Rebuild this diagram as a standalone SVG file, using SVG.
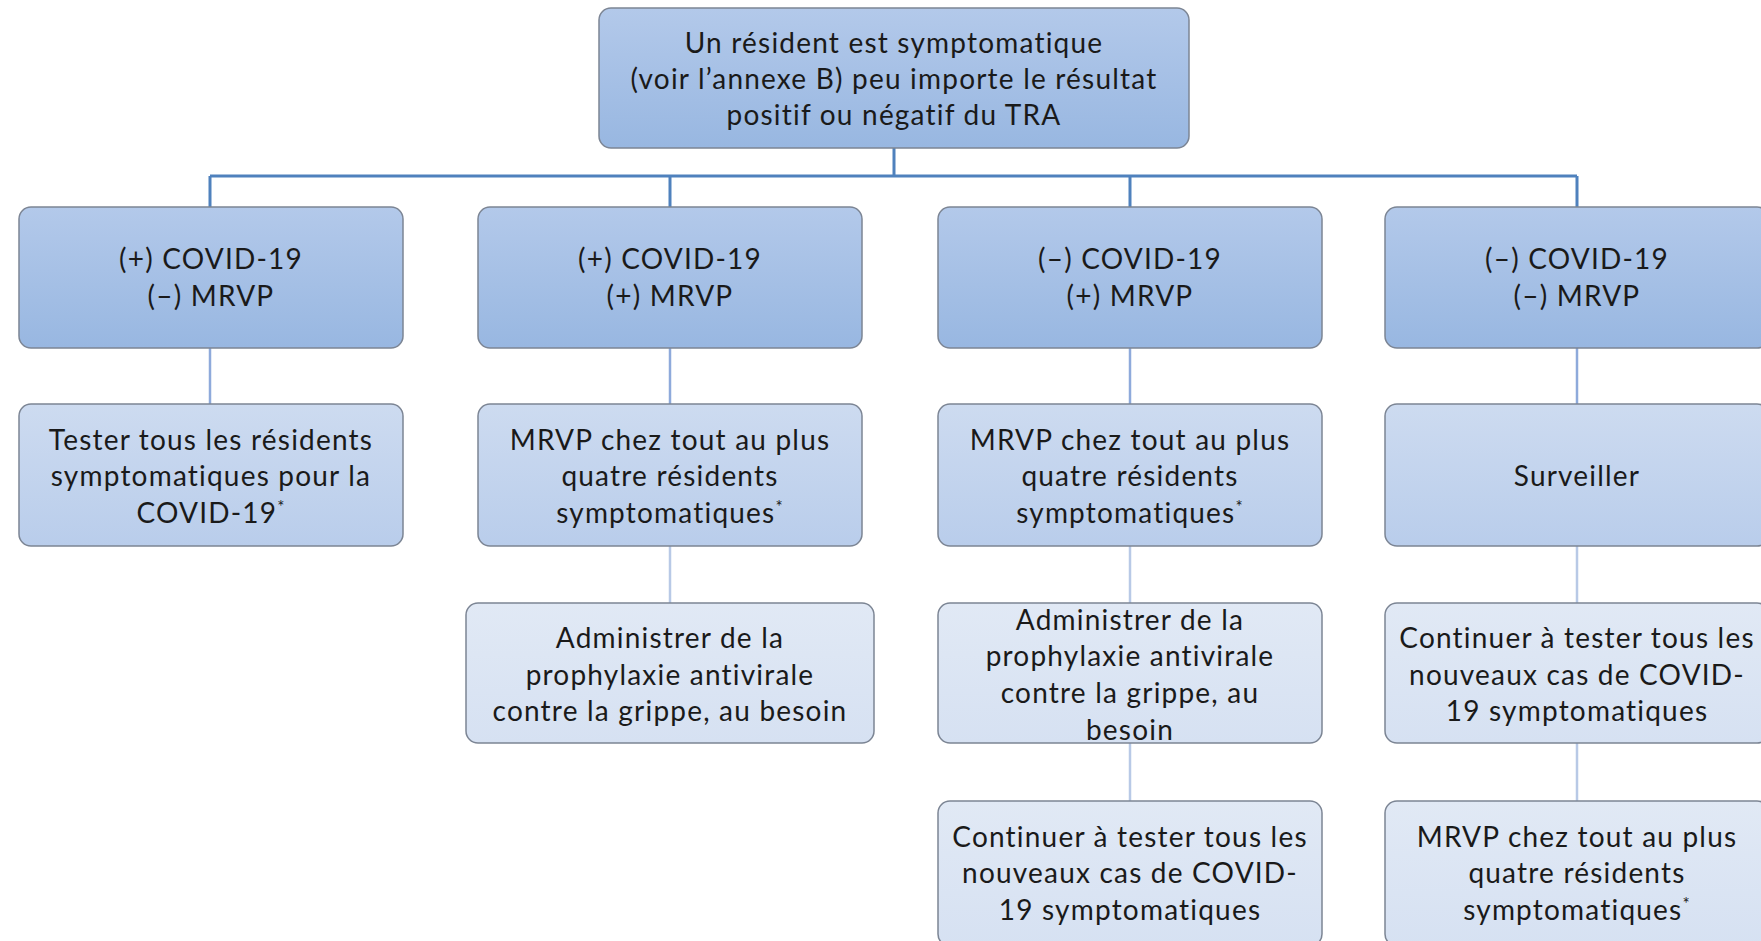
<svg xmlns="http://www.w3.org/2000/svg" width="1761" height="941" viewBox="0 0 1761 941">
<defs>
<linearGradient id="g1" x1="0" y1="0" x2="0" y2="1"><stop offset="0" stop-color="#b3c9ea"/><stop offset="1" stop-color="#98b7e1"/></linearGradient>
<linearGradient id="g2" x1="0" y1="0" x2="0" y2="1"><stop offset="0" stop-color="#cddbf0"/><stop offset="1" stop-color="#b9cdeb"/></linearGradient>
<linearGradient id="g3" x1="0" y1="0" x2="0" y2="1"><stop offset="0" stop-color="#e1e9f5"/><stop offset="1" stop-color="#d6e1f2"/></linearGradient>
<style>
.b{stroke:#7c8594;stroke-width:1.5}
.l1{fill:url(#g1)}
.l2{fill:url(#g2)}
.l3{fill:url(#g3)}
text{font-family:Lato,"Open Sans","Liberation Sans",sans-serif;font-size:28px;letter-spacing:1.2px;font-variant-ligatures:none;fill:#1a1a1a;text-anchor:middle}
.sup{font-size:17px}
.c0{stroke:#4f81bd;stroke-width:3;fill:none}
.c1{stroke:#8eaadb;stroke-width:2.5;fill:none}
.c2{stroke:#b8c9e6;stroke-width:2.5;fill:none}
</style>
</defs>
<rect width="1761" height="941" fill="#ffffff"/>
<g id="connectors">
<path class="c0" d="M894 148V176M210 176H1577M210 176V207M670 176V207M1130 176V207M1577 176V207"/>
<path class="c1" d="M210 348V404M670 348V404M1130 348V404M1577 348V404"/>
<path class="c2" d="M670 546V603M1130 546V603M1577 546V603M1130 743V801M1577 743V801"/>
</g>
<g id="root"><rect class="b l1" x="599" y="8" width="590" height="140" rx="12"/>
<text x="894" y="53">Un résident est symptomatique</text>
<text x="894" y="89">(voir l’annexe B) peu importe le résultat</text>
<text x="894" y="125">positif ou négatif du TRA</text></g>
<g id="n1"><rect class="b l1" x="19" y="207" width="384" height="141" rx="12"/>
<text x="211" y="269">(+) COVID-19</text><text x="211" y="306">(–) MRVP</text></g>
<g id="n2"><rect class="b l1" x="478" y="207" width="384" height="141" rx="12"/>
<text x="670" y="269">(+) COVID-19</text><text x="670" y="306">(+) MRVP</text></g>
<g id="n3"><rect class="b l1" x="938" y="207" width="384" height="141" rx="12"/>
<text x="1130" y="269">(–) COVID-19</text><text x="1130" y="306">(+) MRVP</text></g>
<g id="n4"><rect class="b l1" x="1385" y="207" width="384" height="141" rx="12"/>
<text x="1577" y="269">(–) COVID-19</text><text x="1577" y="306">(–) MRVP</text></g>
<g id="a1"><rect class="b l2" x="19" y="404" width="384" height="142" rx="12"/>
<text x="211" y="450">Tester tous les résidents</text><text x="211" y="486">symptomatiques pour la</text><text x="211" y="523">COVID-19<tspan class="sup" dy="-10">*</tspan></text></g>
<g id="b1"><rect class="b l2" x="478" y="404" width="384" height="142" rx="12"/>
<text x="670" y="450">MRVP chez tout au plus</text><text x="670" y="486">quatre résidents</text><text x="670" y="523">symptomatiques<tspan class="sup" dy="-10">*</tspan></text></g>
<g id="c1"><rect class="b l2" x="938" y="404" width="384" height="142" rx="12"/>
<text x="1130" y="450">MRVP chez tout au plus</text><text x="1130" y="486">quatre résidents</text><text x="1130" y="523">symptomatiques<tspan class="sup" dy="-10">*</tspan></text></g>
<g id="d1"><rect class="b l2" x="1385" y="404" width="384" height="142" rx="12"/>
<text x="1577" y="486">Surveiller</text></g>
<g id="b2"><rect class="b l3" x="466" y="603" width="408" height="140" rx="12"/>
<text x="670" y="648">Administrer de la</text><text x="670" y="685">prophylaxie antivirale</text><text x="670" y="721">contre la grippe, au besoin</text></g>
<g id="c2"><rect class="b l3" x="938" y="603" width="384" height="140" rx="12"/>
<text x="1130" y="630">Administrer de la</text><text x="1130" y="666">prophylaxie antivirale</text><text x="1130" y="703">contre la grippe, au</text><text x="1130" y="740">besoin</text></g>
<g id="d2"><rect class="b l3" x="1385" y="603" width="384" height="140" rx="12"/>
<text x="1577" y="648">Continuer à tester tous les</text><text x="1577" y="685">nouveaux cas de COVID-</text><text x="1577" y="721">19 symptomatiques</text></g>
<g id="c3"><rect class="b l3" x="938" y="801" width="384" height="145" rx="12"/>
<text x="1130" y="847">Continuer à tester tous les</text><text x="1130" y="883">nouveaux cas de COVID-</text><text x="1130" y="920">19 symptomatiques</text></g>
<g id="d3"><rect class="b l3" x="1385" y="801" width="384" height="145" rx="12"/>
<text x="1577" y="847">MRVP chez tout au plus</text><text x="1577" y="883">quatre résidents</text><text x="1577" y="920">symptomatiques<tspan class="sup" dy="-10">*</tspan></text></g>
</svg>
